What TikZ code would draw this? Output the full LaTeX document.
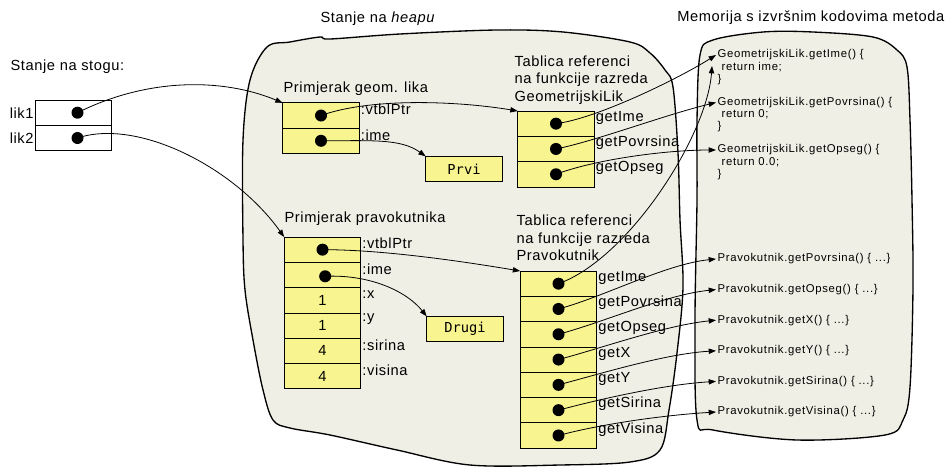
\documentclass[tikz,border=0pt]{standalone}
\usepackage{fontspec}
\setmainfont{Liberation Sans}[LetterSpace=4]
\newfontfamily\codefont{Liberation Sans}[LetterSpace=6]
\setmonofont{DejaVu Sans Mono}
\usetikzlibrary{arrows.meta}
\definecolor{heapbg}{HTML}{F0EFE5}
\definecolor{cellbg}{HTML}{F8F48F}
\tikzset{
  blob/.style={draw=black, fill=heapbg, line width=1pt, line join=round},
  cell/.style={draw=black, fill=cellbg, line width=0.6pt, minimum width=57.5pt, minimum height=18.98pt, inner sep=0pt, outer sep=0pt, font=\fontsize{11}{13}\selectfont},
  slot/.style={cell, fill=white},
  strbox/.style={cell, font=\ttfamily\fontsize{10.3}{12}\selectfont},
  dot/.style={circle, fill=black, inner sep=0pt, minimum size=9pt},
  ptr/.style={draw=black, line width=0.6pt, -{Triangle[length=5.5pt,width=4pt]}},
  lab/.style={font=\fontsize{11}{13}\selectfont, inner sep=1pt},
  fld/.style={lab, anchor=west, yshift=4.5pt},
  code/.style={font=\codefont\fontsize{8.5}{9.6}\selectfont, inner sep=1pt, anchor=west},
}
\begin{document}
\begin{tikzpicture}[x=0.75pt, y=-0.75pt]
\useasboundingbox (0,0) rectangle (948,468);
\draw[blob] plot[smooth cycle, tension=0.55] coordinates {(267,47) (290,42) (320,37) (330,39) (400,34) (497,30) (563,32) (630,42) (650,53) (665,70) (673,87) (678,153) (680,220) (683,287) (677,353) (669,410) (660,450) (630,462) (560,465) (470,465) (397,450) (330,435) (290,428) (273,420) (263,390) (253,340) (245,290) (243,240) (243,140) (250,80)};
\draw[blob] plot[smooth cycle, tension=0.55] coordinates {(713,40) (763,32) (813,32) (873,37) (897,50) (907,67) (910,120) (912,200) (913,287) (910,387) (903,420) (885,435) (797,440) (713,430) (697,420) (695,320) (697,200) (697,120) (700,55)};

\node[lab, anchor=west] (stog) at (9,67) {Stanje na stogu:};
\node[lab, anchor=west] (heap) at (319,19) {Stanje na \textit{heapu}};
\node[lab, anchor=east] (mem) at (946,18) {Memorija s izvršnim kodovima metoda};

\node[slot] (s1) at (73.5,112.7) {};
\node[slot] (s2) at (73.5,138) {};
\node[lab, anchor=east] (lik1) at (s1.west) {lik1};
\node[lab, anchor=east] (lik2) at (s2.west) {lik2};
\node[dot] (sd1) at ([xshift=3pt]s1.center) {};
\node[dot] (sd2) at ([xshift=3pt]s2.center) {};

\node[lab, anchor=west] (gl) at (282,89) {Primjerak geom. lika};
\node[cell] (g1) at (321,115.5) {};
\node[cell] (g2) at (321,140.8) {};
\node[fld] (gf1) at (g1.east) {:vtblPtr};
\node[fld] (gf2) at (g2.east) {:ime};
\node[dot] (gd1) at (g1) {};
\node[dot] (gd2) at (g2) {};
\node[strbox] (prvi) at (464,169) {Prvi};

\node[lab, anchor=west, align=left] (gtl) at (513,80) {Tablica referenci\\na funkcije razreda\\GeometrijskiLik};
\foreach \m [count=\i] in {getIme,getPovrsina,getOpseg} {
  \node[cell] (gt\i) at (556,{98.35+25.3*\i}) {};
  \node[dot] (gtd\i) at (gt\i) {};
  \node[fld] (gm\i) at (gt\i.east) {\m};
}
\foreach \m/\b [count=\i] in {getIme/ime,getPovrsina/0,getOpseg/0.0} {
  \node[code] (mg\i) at (716,{7.5+47.5*\i}) {GeometrijskiLik.\m() \{};
  \node[code] (mgb\i) at (720,{19.5+47.5*\i}) {return \b;};
  \node[code] (mgc\i) at (716,{32+47.5*\i}) {\}};
}

\node[lab, anchor=west] (rl) at (283,219) {Primjerak pravokutnika};
\foreach \v/\f [count=\i] in {/vtblPtr,/ime,1/x,1/y,4/sirina,4/visina} {
  \node[cell] (r\i) at (322.5,{224.35+25.3*\i}) {\v};
  \node[fld] (rf\i) at (r\i.east) {:\f};
}
\node[dot] (rd1) at (r1) {};
\node[dot] (rd2) at ([xshift=2pt,yshift=-1pt]r2.center) {};
\node[strbox] (drugi) at (465,329) {Drugi};

\node[lab, anchor=west, align=left] (rtl) at (515,238) {Tablica referenci\\na funkcije razreda\\Pravokutnik};
\foreach \m [count=\i] in {getIme,getPovrsina,getOpseg,getX,getY,getSirina,getVisina} {
  \node[cell] (rt\i) at (558.5,{258.35+25.3*\i}) {};
  \node[dot] (rtd\i) at (rt\i) {};
  \node[fld] (rm\i) at (rt\i.east) {\m};
}
\foreach \m [count=\i] in {getPovrsina,getOpseg,getX,getY,getSirina,getVisina} {
  \node[code] (mr\i) at (716,{228.4+30.6*\i}) {Pravokutnik.\m() \{ ...\}};
}
\coordinate (gi) at (712,66);

\draw[ptr] (sd1.center) .. controls +(70,-35) and +(-60,-25) .. (g1.north west);
\draw[ptr] (sd2.center) .. controls +(60,-20) and +(-50,-70) .. (r1.north west);
\draw[ptr] (gd1.center) .. controls +(50,-18) and +(-60,-10) .. (gt1.north west);
\draw[ptr] (gd2.center) .. controls +(50,0) and +(-25,-18) .. (prvi.north west);
\draw[ptr] (rd1.center) .. controls +(60,0) and +(-60,-10) .. (rt1.north west);
\draw[ptr] (rd2.center) .. controls +(45,-2) and +(-20,-25) .. (drugi.north west);
\draw[ptr] (gtd1.center) .. controls +(40,-5) and +(-40,25) .. (mg1.west);
\draw[ptr] (gtd2.center) .. controls +(40,-8) and +(-50,12) .. (mg2.west);
\draw[ptr] (gtd3.center) .. controls +(40,-15) and +(-50,0) .. (mg3.west);
\draw[ptr] (rtd1.center) .. controls +(70,-25) and +(-5,70) .. (gi);
\draw[ptr] (rtd2.center) .. controls +(45,-12) and +(-50,5) .. (mr1.west);
\draw[ptr] (rtd3.center) .. controls +(45,-12) and +(-50,5) .. (mr2.west);
\draw[ptr] (rtd4.center) .. controls +(45,-12) and +(-50,5) .. (mr3.west);
\draw[ptr] (rtd5.center) .. controls +(45,-12) and +(-50,3) .. (mr4.west);
\draw[ptr] (rtd6.center) .. controls +(45,-12) and +(-50,3) .. (mr5.west);
\draw[ptr] (rtd7.center) .. controls +(45,-12) and +(-50,3) .. (mr6.west);
\end{tikzpicture}
\end{document}
